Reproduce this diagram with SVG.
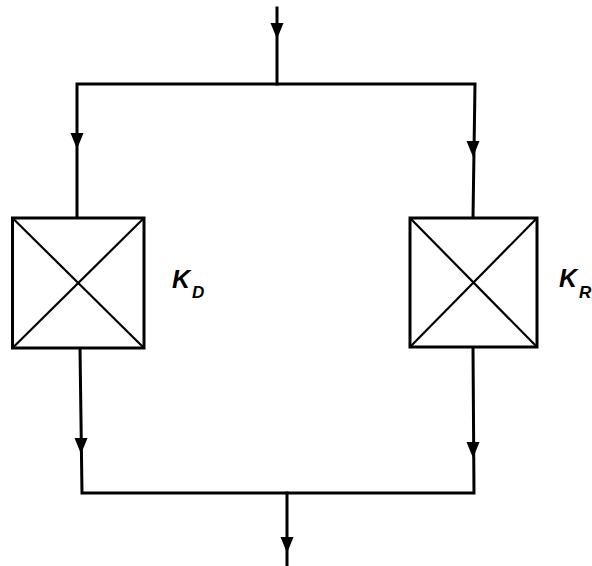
<svg xmlns="http://www.w3.org/2000/svg" xmlns:xlink="http://www.w3.org/1999/xlink" width="592" height="566" viewBox="0 0 592 566">
<defs>
<path id="arr" d="M-6.5,0 L6.5,0 L0,16 Z" fill="#000"/>
<style>
.ln{stroke:#000;stroke-width:3;fill:none;stroke-linecap:square}
.box{stroke:#000;stroke-width:3;fill:#fff}
.x{stroke:#000;stroke-width:2.2;fill:none}
.lbl{font-family:"Liberation Sans",Arial,sans-serif;font-style:italic;font-weight:bold;fill:#000}
</style>
</defs>
<rect width="592" height="566" fill="#fff"/>
<g id="connectors">
<line class="ln" x1="277" y1="8" x2="277" y2="84"/>
<use href="#arr" xlink:href="#arr" x="277" y="23"/>
<polyline class="ln" points="77,218 77,84 475,84 473,218"/>
<use href="#arr" xlink:href="#arr" x="77" y="133"/>
<use href="#arr" xlink:href="#arr" x="473" y="141"/>
<polyline class="ln" points="80,348 82,493 474,493 473,347"/>
<use href="#arr" xlink:href="#arr" x="81" y="438"/>
<use href="#arr" xlink:href="#arr" x="473" y="442"/>
<line class="ln" x1="287" y1="493" x2="287" y2="566"/>
<use href="#arr" xlink:href="#arr" x="287" y="537"/>
</g>
<g id="kd">
<rect class="box" x="12.5" y="218" width="131.5" height="130"/>
<line class="x" x1="12.5" y1="218" x2="144" y2="348"/>
<line class="x" x1="144" y1="218" x2="12.5" y2="348"/>
<text class="lbl" x="172" y="288" font-size="25">K</text>
<text class="lbl" x="192" y="298" font-size="17">D</text>
</g>
<g id="kr">
<rect class="box" x="410" y="218" width="127" height="129"/>
<line class="x" x1="410" y1="218" x2="537" y2="347"/>
<line class="x" x1="537" y1="218" x2="410" y2="347"/>
<text class="lbl" x="559" y="287" font-size="25">K</text>
<text class="lbl" x="579" y="298" font-size="17">R</text>
</g>
</svg>
